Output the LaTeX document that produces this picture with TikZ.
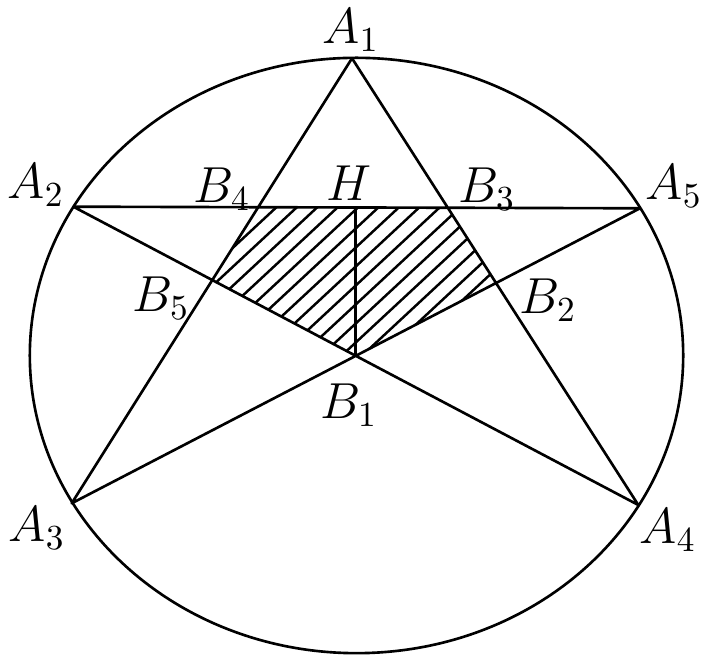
\documentclass[tikz,border=0pt]{standalone}
\usepackage{amsmath}
\usepackage{tikz}
\usetikzlibrary{positioning}

\tikzset{
    edge/.style={line width=0.75pt, line join=round},
    hatch/.style={line width=0.7pt},
    lbl/.style={font=\Large, inner sep=0pt}
}

\begin{document}
\begin{tikzpicture}[x=0.01cm, y=-0.01cm]
    \useasboundingbox (0,0) rectangle (706,662);

    % outer vertices
    \coordinate (C)  at (356.5,355.5);
    \coordinate (A1) at (352,58.3);
    \coordinate (A2) at (73.3,206.7);
    \coordinate (A3) at (71.7,503.3);
    \coordinate (A4) at (638.3,505);
    \coordinate (A5) at (640,208.3);

    % inner vertices
    \coordinate (B1) at (intersection of A2--A4 and A3--A5);
    \coordinate (B2) at (intersection of A1--A4 and A3--A5);
    \coordinate (B3) at (intersection of A1--A4 and A2--A5);
    \coordinate (B4) at (intersection of A1--A3 and A2--A5);
    \coordinate (B5) at (intersection of A1--A3 and A2--A4);
    \coordinate (H)  at (B1 |- B4);

    % hatching of the inner pentagon
    \begin{scope}
        \clip (B4) -- (B3) -- (B2) -- (B1) -- (B5) -- cycle;
        \foreach \k in {-9,...,12}
            \draw[hatch] (52,{213+19*\k+300*0.93}) -- (652,{213+19*\k-300*0.93});
    \end{scope}

    \draw[edge] (C) ellipse [x radius=3.265cm, y radius=2.975cm];
    \draw[edge] (A1) -- (A3) -- (A5) -- (A2) -- (A4) -- cycle;
    \draw[edge] (H) -- (B1);

    % labels
    \node[lbl] (a1) at (351,30)  {$A_1$};
    \node[lbl] (a2) at (36,185)  {$A_2$};
    \node[lbl] (a3) at (37,528)  {$A_3$};
    \node[lbl] (a4) at (668,530) {$A_4$};
    \node[lbl] (a5) at (674,186) {$A_5$};
    \node[lbl] (b1) at (349,405) {$B_1$};
    \node[lbl] (b2) at (548,300) {$B_2$};
    \node[lbl] (b3) at (487,189) {$B_3$};
    \node[lbl] (b4) at (222,189) {$B_4$};
    \node[lbl] (b5) at (161,298) {$B_5$};
    \node[lbl] (h)  at (349,183) {$H$};
\end{tikzpicture}
\end{document}
